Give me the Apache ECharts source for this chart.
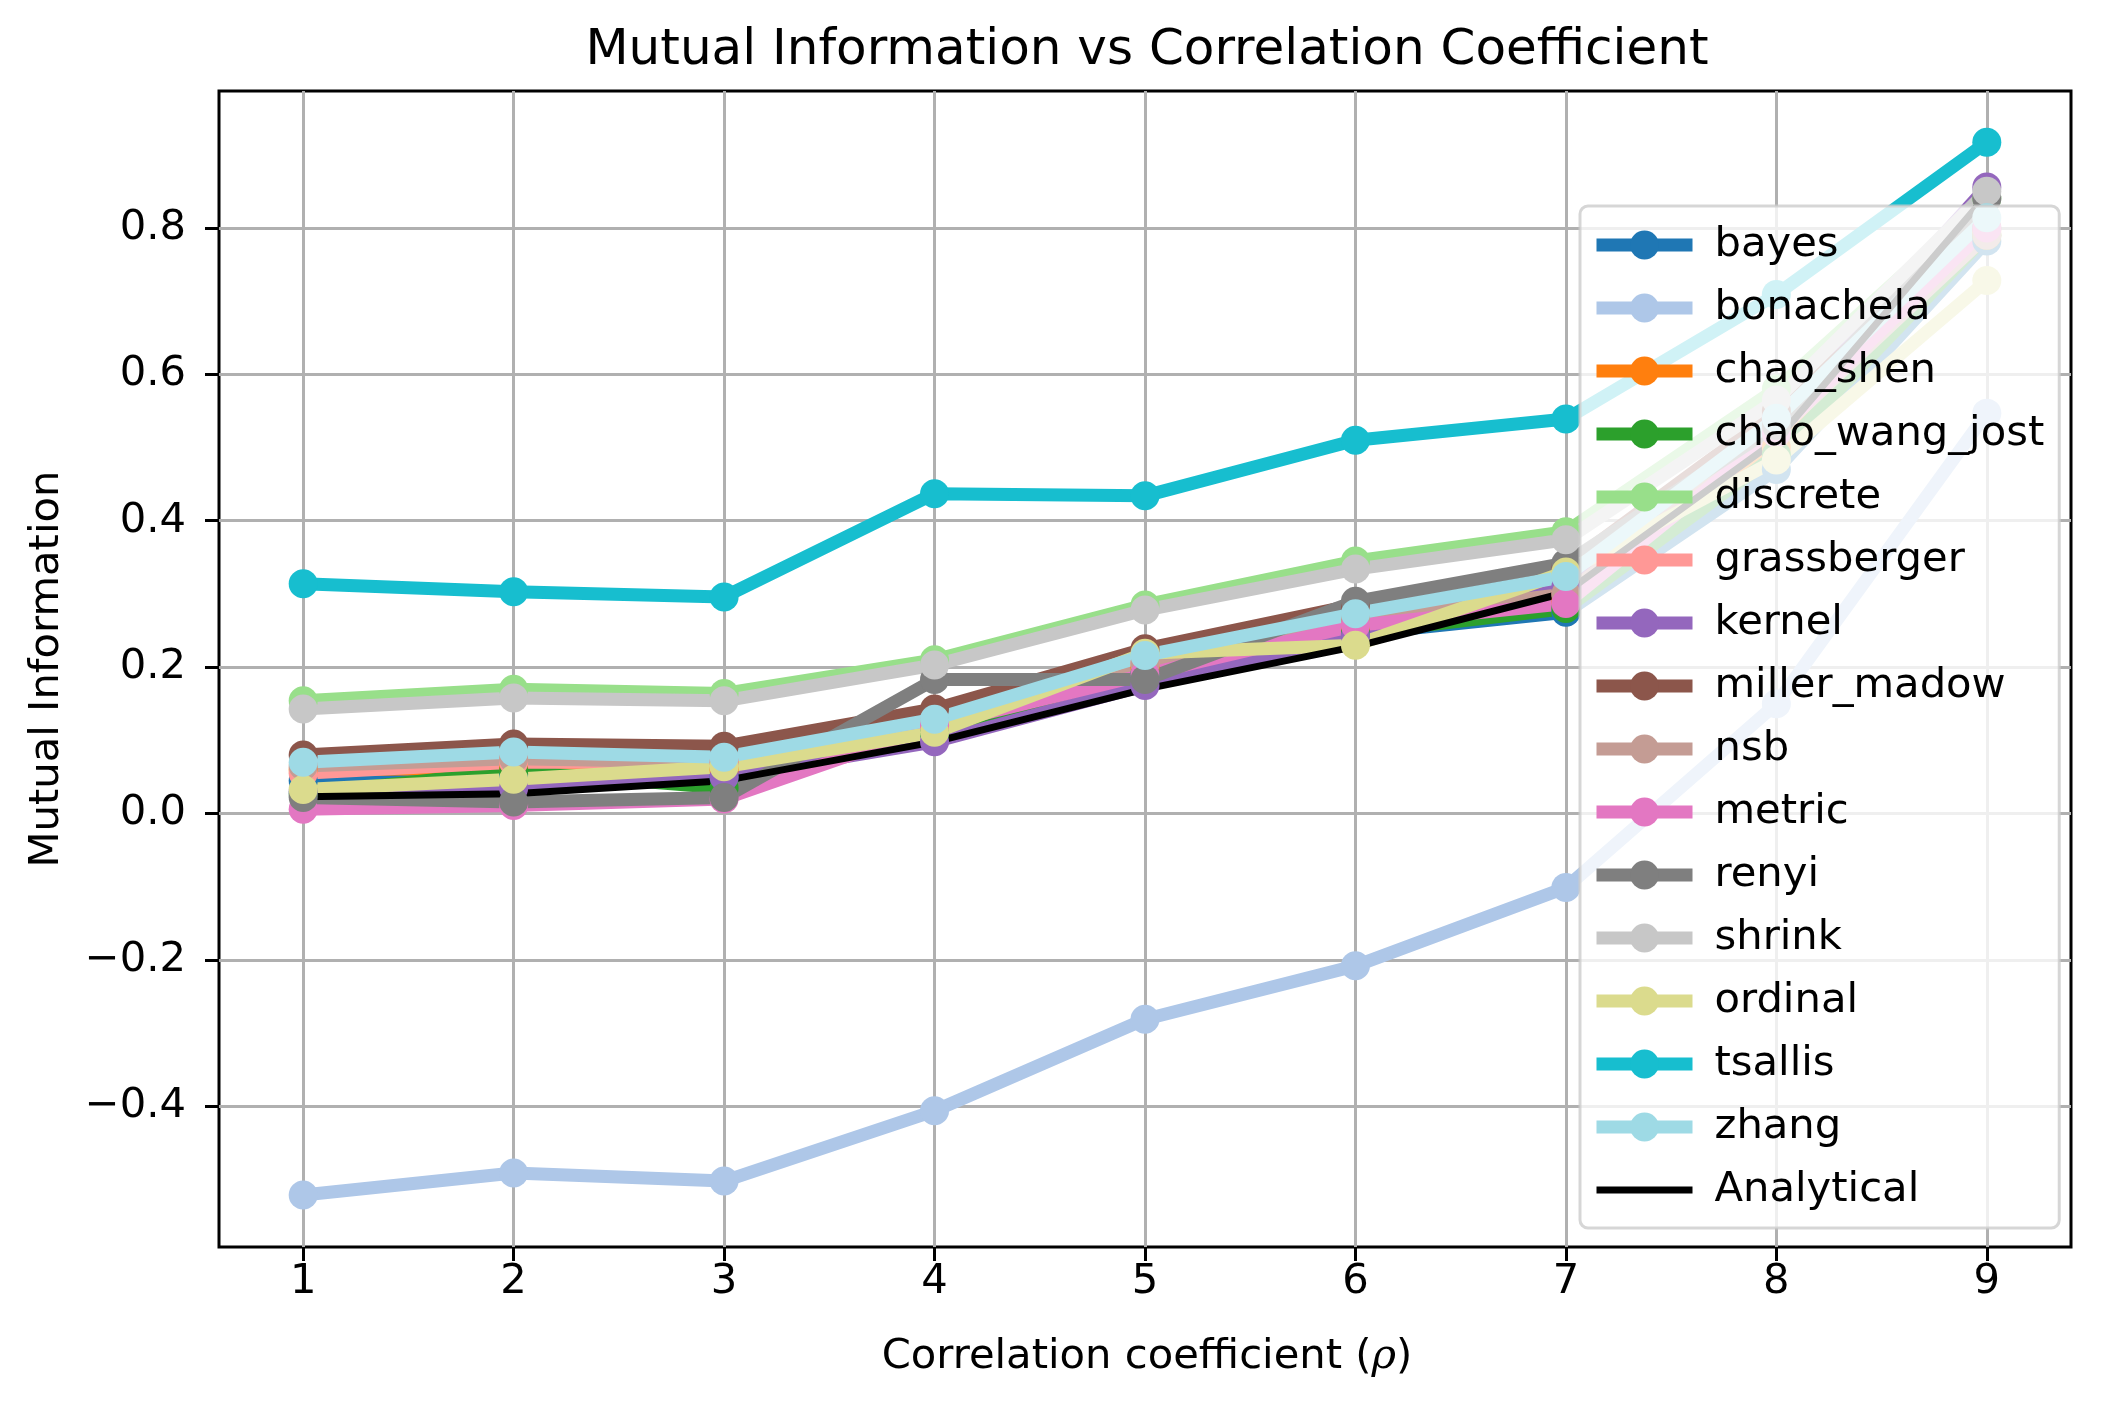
<!DOCTYPE html>
<html>
<head>
<meta charset="utf-8">
<script src="https://cdn.jsdelivr.net/npm/echarts@6/dist/echarts.min.js"></script>
<style>
html,body{margin:0;padding:0;background:#fff;}
#chart{width:2108px;height:1411px;}
</style>
</head>
<body>
<div id="chart"></div>
<script>
const xValues = [1, 2, 3, 4, 5, 6, 7, 8, 9];
const yTicks = [-0.4, -0.2, 0.0, 0.2, 0.4, 0.6, 0.8];

const seriesNames = ['bayes', 'bonachela', 'chao_shen', 'chao_wang_jost', 'discrete', 'grassberger', 'kernel', 'miller_madow', 'nsb', 'metric', 'renyi', 'shrink', 'ordinal', 'tsallis', 'zhang', 'Analytical'];
const seriesColors = ['#1f77b4', '#aec7e8', '#ff7f0e', '#2ca02c', '#98df8a', '#ff9896', '#9467bd', '#8c564b', '#c49c94', '#e377c2', '#7f7f7f', '#c7c7c7', '#dbdb8d', '#17becf', '#9edae5', '#000000'];

const bayes = [0.045, 0.054, 0.05, 0.11, 0.19, 0.245, 0.275, 0.47, 0.782];
const bonachela = [-0.521, -0.491, -0.502, -0.406, -0.281, -0.208, -0.101, 0.15, 0.547];
const chao_shen = [0.06, 0.062, 0.06, 0.12, 0.2, 0.255, 0.29, 0.5, 0.79];
const chao_wang_jost = [0.027, 0.058, 0.035, 0.11, 0.19, 0.246, 0.28, 0.49, 0.79];
const discrete = [0.154, 0.17, 0.164, 0.21, 0.285, 0.345, 0.385, 0.58, 0.84];
const grassberger = [0.055, 0.07, 0.07, 0.125, 0.205, 0.26, 0.3, 0.52, 0.795];
const kernel = [0.03, 0.035, 0.05, 0.098, 0.175, 0.243, 0.31, 0.54, 0.856];
const miller_madow = [0.08, 0.095, 0.092, 0.143, 0.225, 0.285, 0.338, 0.55, 0.8];
const nsb = [0.065, 0.075, 0.07, 0.125, 0.205, 0.265, 0.3, 0.52, 0.79];
const metric = [0.006, 0.011, 0.02, 0.12, 0.19, 0.257, 0.287, 0.52, 0.8];
const renyi = [0.022, 0.016, 0.022, 0.183, 0.183, 0.29, 0.342, 0.53, 0.84];
const shrink = [0.143, 0.158, 0.154, 0.203, 0.278, 0.334, 0.374, 0.565, 0.85];
const ordinal = [0.033, 0.047, 0.064, 0.111, 0.219, 0.23, 0.33, 0.483, 0.728];
const tsallis = [0.314, 0.303, 0.296, 0.437, 0.434, 0.51, 0.539, 0.709, 0.917];
const zhang = [0.07, 0.084, 0.077, 0.129, 0.216, 0.273, 0.324, 0.54, 0.814];
const analytical = [0.023, 0.027, 0.045, 0.098, 0.17, 0.228, 0.302, 0.51, 0.845];

const allValues = [bayes, bonachela, chao_shen, chao_wang_jost, discrete, grassberger, kernel, miller_madow, nsb, metric, renyi, shrink, ordinal, tsallis, zhang, analytical];

const FONT = 'DejaVu Sans';
const FS = 41.7;
const LW = 13;
const LW_AN = 7;
const SYM = 29;

const series = seriesNames.map((name, i) => {
  const isAn = name === 'Analytical';
  return {
    name: name,
    type: 'line',
    data: xValues.map((x, j) => [x, allValues[i][j]]),
    color: seriesColors[i],
    symbol: isAn ? 'none' : 'circle',
    symbolSize: SYM,
    showSymbol: !isAn,
    lineStyle: { width: isAn ? LW_AN : LW, color: seriesColors[i], cap: 'butt', join: 'round' },
    itemStyle: { color: seriesColors[i] },
    emphasis: { disabled: true },
    animation: false,
    z: 2
  };
});

const legendData = seriesNames.map((name, i) => {
  const isAn = name === 'Analytical';
  const item = { name: name, lineStyle: { width: isAn ? LW_AN : LW, color: seriesColors[i] } };
  if (isAn) item.itemStyle = { opacity: 0 };
  return item;
});

function fmtY(v) {
  const s = Math.abs(v).toFixed(1);
  return (v < -1e-9 ? '\u2212' : '') + s;
}

const chart = echarts.init(document.getElementById('chart'), null, { renderer: 'canvas' });
chart.setOption({
  animation: false,
  backgroundColor: '#ffffff',
  grid: {
    left: 219, right: 37, top: 91, bottom: 164,
    show: true, borderColor: '#000000', borderWidth: 3, backgroundColor: 'transparent'
  },
  xAxis: {
    type: 'value',
    min: 0.6, max: 9.4,
    axisLine: { show: false, onZero: false },
    axisTick: { show: true, customValues: xValues, length: 14, lineStyle: { color: '#000', width: 3 } },
    axisLabel: { customValues: xValues, margin: 14, color: '#000', fontFamily: FONT, fontSize: FS, formatter: v => String(v) },
    splitLine: { show: true, lineStyle: { color: '#b0b0b0', width: 3 } }
  },
  yAxis: {
    type: 'value',
    min: -0.592, max: 0.987,
    axisLine: { show: false, onZero: false },
    axisTick: { show: true, customValues: yTicks, length: 14, lineStyle: { color: '#000', width: 3 } },
    axisLabel: { customValues: yTicks, margin: 33, color: '#000', fontFamily: FONT, fontSize: FS, formatter: fmtY },
    splitLine: { show: true, lineStyle: { color: '#b0b0b0', width: 3 } }
  },
  legend: {
    orient: 'vertical',
    left: 1580, top: 206,
    data: legendData,
    itemWidth: 96, itemHeight: 36, itemGap: 21,
    padding: [18, 15, 17, 10],
    backgroundColor: 'rgba(255,255,255,0.8)',
    borderColor: 'rgba(204,204,204,0.8)',
    borderWidth: 3,
    borderRadius: 8,
    selectedMode: false,
    textStyle: { fontFamily: FONT, fontSize: FS, lineHeight: 42, color: '#000', padding: [0, 0, 0, 17] },
    z: 10
  },
  graphic: [
    { type: 'text', style: { text: 'Mutual Information vs Correlation Coefficient', x: 1147, y: 51, textAlign: 'center', textVerticalAlign: 'middle', fontFamily: FONT, fontSize: 50, fill: '#000' }, silent: true },
    { type: 'text', style: { text: 'Correlation coefficient ({i|ρ})', x: 1147, y: 1357, textAlign: 'center', textVerticalAlign: 'middle', fontFamily: FONT, fontSize: FS, fill: '#000', rich: { i: { fontStyle: 'italic', fontFamily: 'DejaVu Serif', fontSize: FS } } }, silent: true },
    { type: 'text', rotation: Math.PI / 2, x: 47, y: 669, style: { text: 'Mutual Information', x: 0, y: 0, textAlign: 'center', textVerticalAlign: 'middle', fontFamily: FONT, fontSize: FS, fill: '#000' }, silent: true }
  ],
  series: series
});
</script>
</body>
</html>
